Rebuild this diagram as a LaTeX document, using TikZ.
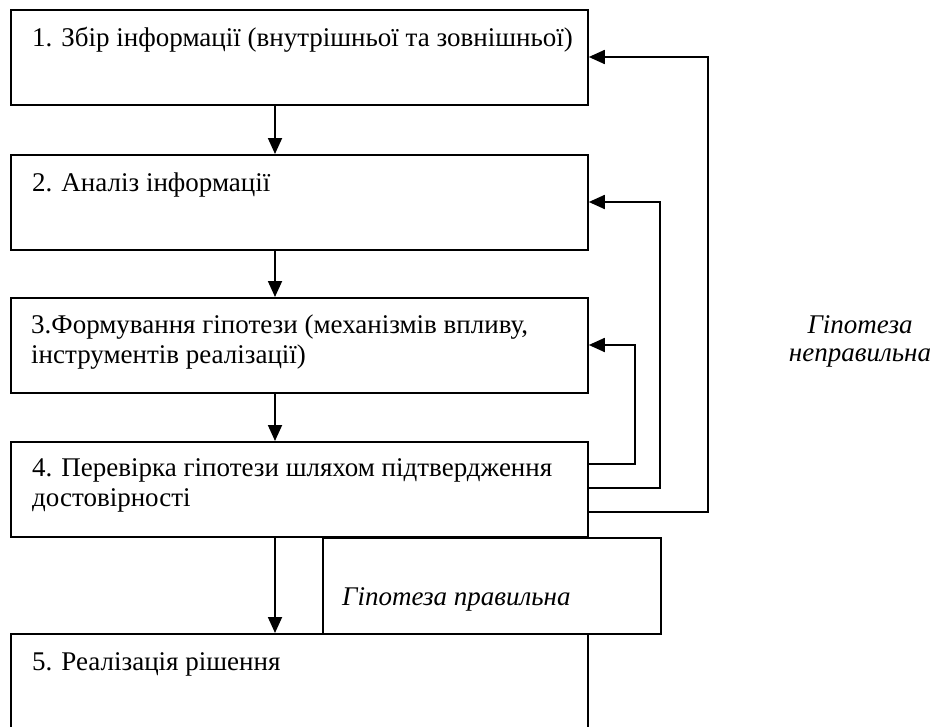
\documentclass[tikz,border=0pt]{standalone}
\usepackage{fontspec}
\setmainfont{Liberation Serif}
\usetikzlibrary{arrows.meta,calc}

\begin{document}
\begin{tikzpicture}[x=1pt,y=-1pt,
	box/.style={draw,line width=1.8pt,minimum width=577pt,minimum height=95pt,inner sep=0pt,anchor=north west},
	txt/.style={inner sep=0pt,align=left,font=\fontsize{27}{30}\selectfont},
	itx/.style={inner sep=0pt,align=center,font=\fontsize{27}{28}\selectfont\itshape},
	arr/.style={line width=1.8pt,-{Triangle[length=16pt,width=14pt]}}]
			\useasboundingbox (0,0) rectangle (934,726);
			\node[box] (b1) at (10,9) {};
			\node[box] (b2) at (10,154) {};
			\node[box] (b3) at (10,297) {};
			\node[box] (b4) at (10,441) {};
			\node[box,minimum width=338pt,minimum height=96pt] (ok) at (322,537) {};
			\node[box,minimum height=110pt] (b5) at (10,633) {};
			\node[txt,anchor=base west] (t1) at ($(b1.north west)+(22,37)$) {1. Збір інформації (внутрішньої та зовнішньої)};
			\node[txt,anchor=base west] (t2) at ($(b2.north west)+(22,37)$) {2. Аналіз інформації};
			\node[txt,anchor=base west] (t3) at ($(b3.north west)+(21,66)$) {3.Формування гіпотези (механізмів впливу,\\інструментів реалізації)};
			\node[txt,anchor=base west] (t4) at ($(b4.north west)+(22,65)$) {4. Перевірка гіпотези шляхом підтвердження\\достовірності};
			\node[txt,anchor=base west] (t5) at ($(b5.north west)+(22,37)$) {5. Реалізація рішення};
			\node[itx,anchor=base west] (tok) at ($(ok.north west)+(20,68)$) {Гіпотеза правильна};
			\node[itx,anchor=base] (tno) at (860,361) {Гіпотеза\\неправильна};
			\draw[arr] ([xshift=265pt]b1.south west) -- ([xshift=265pt]b2.north west);
			\draw[arr] ([xshift=265pt]b2.south west) -- ([xshift=265pt]b3.north west);
			\draw[arr] ([xshift=265pt]b3.south west) -- ([xshift=265pt]b4.north west);
			\draw[arr] ([xshift=265pt]b4.south west) -- ([xshift=265pt]b5.north west);
			\draw[arr] ([yshift=-23pt]b4.north east) -- ++(46,0) |- ([yshift=-48pt]b3.north east);
			\draw[arr] ([yshift=-47pt]b4.north east) -- ++(71,0) |- ([yshift=-48pt]b2.north east);
			\draw[arr] ([yshift=-71pt]b4.north east) -- ++(119,0) |- ([yshift=-48pt]b1.north east);
			\end{tikzpicture}
\end{document}
